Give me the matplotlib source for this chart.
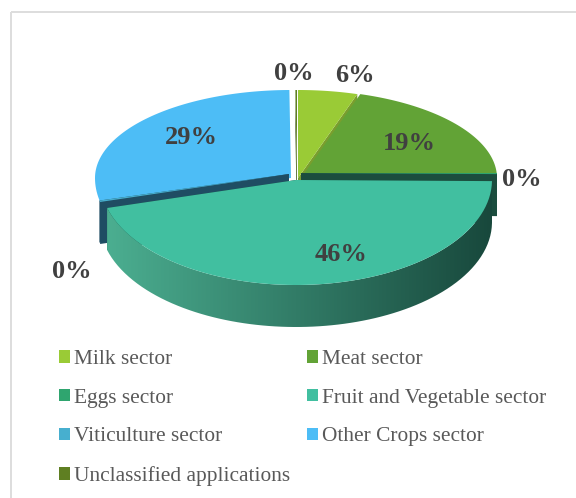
import numpy as np
import matplotlib
matplotlib.use("Agg")
import matplotlib.pyplot as plt
from matplotlib.patches import Patch, Polygon, Rectangle

labels = ["Milk sector", "Meat sector", "Eggs sector", "Fruit and Vegetable sector",
          "Viticulture sector", "Other Crops sector", "Unclassified applications"]
values = [5.5, 19.5, 0.15, 46, 0.2, 28.5, 0.15]
pct_text = ["6%", "19%", "0%", "46%", "0%", "29%", "0%"]
top_colors = ["#9ACB36", "#62A336", "#2FA56F", "#41BFA0", "#47AFCF", "#4DBDF6", "#5F7F22"]
wall_colors = ["#7A9E2E", "#3F6B24", "#1B4D3E", "#1B4D3E", "#1F4D63", "#1F4D63", "#3F5518"]
label_pos = [(355, 75), (409, 143), (522, 179), (341, 254), (72, 271), (191, 137), (294, 73)]

# pixel offset of each slice from the pie centre
offsets = [(0, 0), (3, 0), (3, -5), (-2, 2), (-9, -4), (-7, 0), (-1, 0)]
# meat and other crops have their cut faces hidden behind the thin slices
no_wall = [1, 5]

cx, cy = 298, 178
rx, ry_up, ry_down = 196, 88, 105
depth = 42


def rim(a0, a1, dx, dy, n=80):
    # clockwise from 12 o'clock, in fractions of the full circle
    t = np.linspace(a0, a1, n) * 2 * np.pi
    # foreshortening of the tilted pie
    t = t - 0.06 * np.sin(2 * t)
    sx = np.sin(t)
    cs = np.cos(t)
    ry = np.where(cs > 0, ry_up, ry_down)
    return cx + dx + rx * sx, cy + dy - ry * cs


fig = plt.figure(figsize=(5.76, 4.98), dpi=100)
ax = fig.add_axes([0, 0, 1, 1])
ax.set_xlim(0, 576)
ax.set_ylim(498, 0)
ax.axis("off")

# only the top and left of the frame are inside the picture
ax.add_patch(Rectangle((11, 12), 700, 700, fill=False, ec="#DDDDDD", lw=1.44))

fr = np.cumsum([0] + values) / sum(values)

# back slices first, fruit wedge last because it sits in front
order = [0, 6, 5, 1, 2, 4, 3]
for z, i in enumerate(order):
    a0, a1 = fr[i], fr[i + 1]
    dx, dy = offsets[i]
    x, y = rim(a0, a1, dx, dy)
    ax0, ay0 = cx + dx, cy + dy
    # side walls at both cut faces
    if i not in no_wall:
        for xe, ye in [(x[0], y[0]), (x[-1], y[-1])]:
            ax.add_patch(Polygon([(ax0, ay0), (xe, ye), (xe, ye + depth), (ax0, ay0 + depth)],
                                 fc=wall_colors[i], ec="none", zorder=2 + z))
    if i == 3:
        # outer wall with a left to right shading
        xw = np.r_[x, x[::-1]]
        yw = np.r_[y, y[::-1] + depth]
        wall = Polygon(np.c_[xw, yw], fc="none", ec="none", zorder=2 + z)
        ax.add_patch(wall)
        grad = np.linspace(0, 1, 256)[None, :, None]
        left = np.array([76, 176, 146]) / 255
        right = np.array([24, 72, 60]) / 255
        im = ax.imshow(left * (1 - grad) + right * grad, extent=(100, 492, 340, 170),
                       aspect="auto", zorder=2 + z)
        im.set_clip_path(wall)
    ax.add_patch(Polygon(np.c_[np.r_[ax0, x], np.r_[ay0, y]], fc=top_colors[i], ec="none",
                         zorder=2.5 + z))

ax.set_xlim(0, 576)
ax.set_ylim(498, 0)

for (px, py), t in zip(label_pos, pct_text):
    ax.text(px, py, t, ha="center", va="center", family="Liberation Serif", weight="bold",
            fontsize=19, color="#404040", zorder=20)

row_first = [0, 2, 4, 6, 1, 3, 5]
handles = [Patch(fc=top_colors[i], ec="none") for i in row_first]
names = [labels[i] for i in row_first]
leg = ax.legend(handles, names, ncol=2, frameon=False, loc="upper left",
                bbox_to_anchor=(59 / 576, 1 - 350 / 498), bbox_transform=fig.transFigure,
                prop={"family": "Liberation Serif", "size": 15.4}, labelcolor="#595959",
                handlelength=0.51, handleheight=0.51, handletextpad=0.19,
                columnspacing=0.8, labelspacing=0.92, borderpad=0, borderaxespad=0)

fig.savefig("out.png", dpi=100)
